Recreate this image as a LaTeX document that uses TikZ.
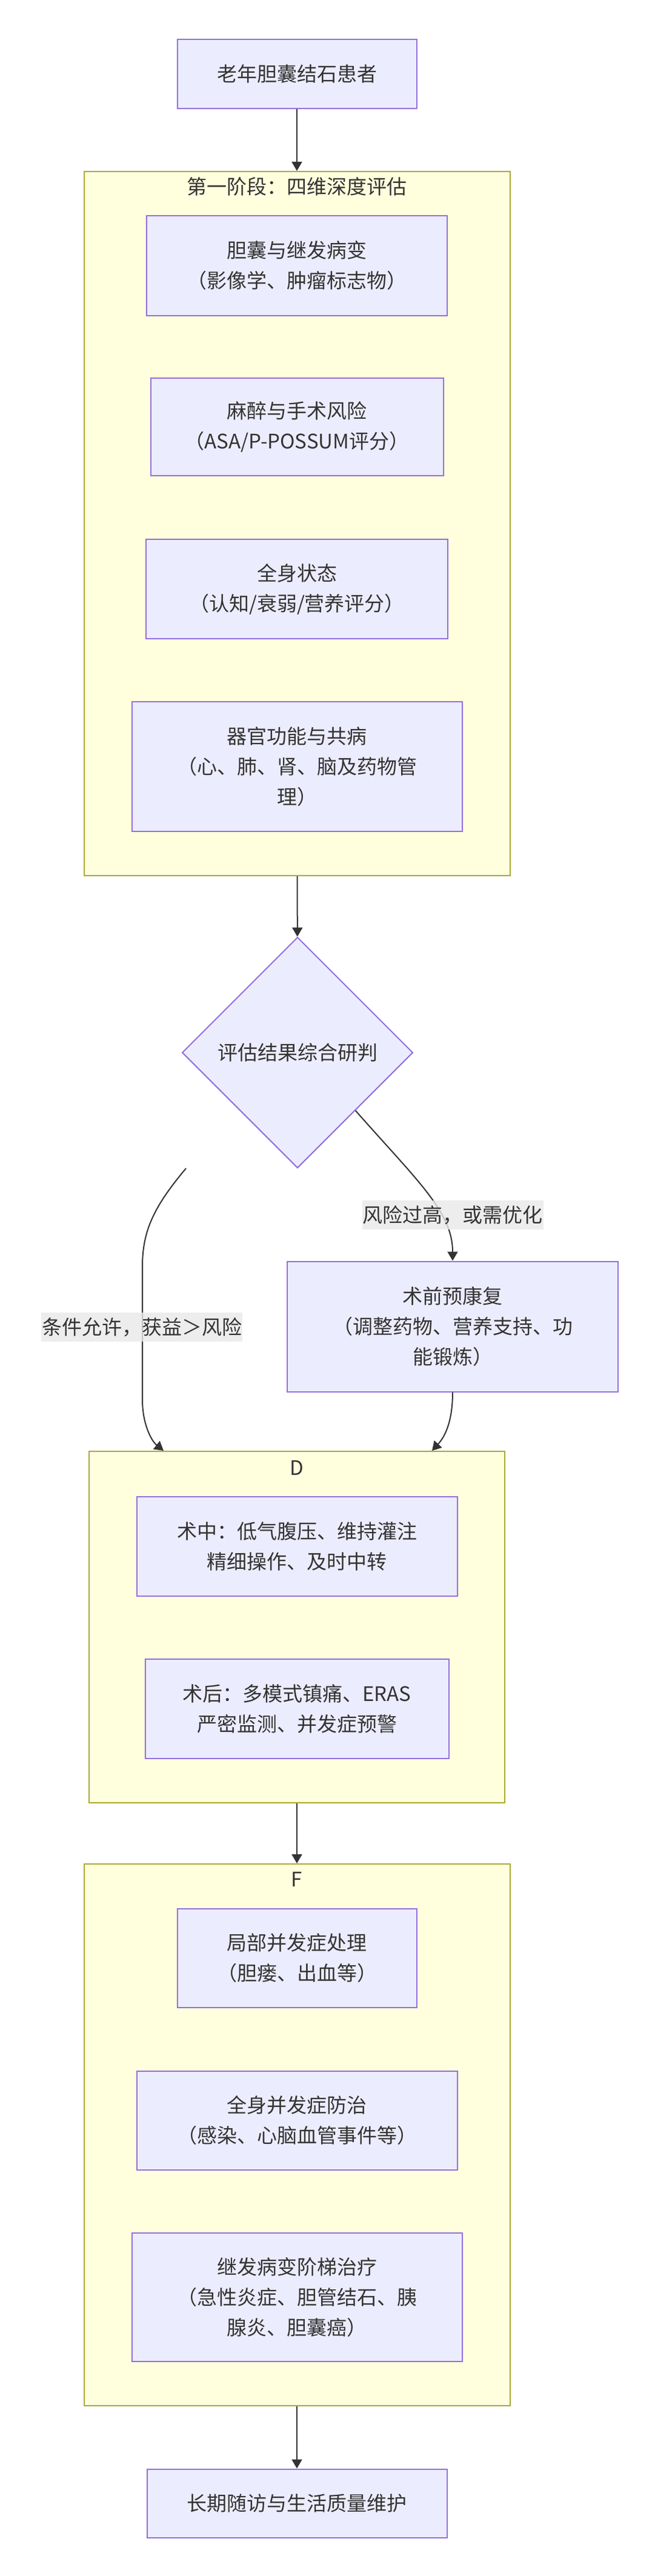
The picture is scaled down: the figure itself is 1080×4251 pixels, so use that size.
\documentclass[tikz,border=0pt]{standalone}
\usepackage{fontspec}
\setmainfont{Noto Sans CJK SC}
\usetikzlibrary{shapes.geometric,arrows.meta}
\begin{document}
\begin{tikzpicture}[x=1pt,y=-1pt,
  box/.style={draw=boxline,fill=boxfill,line width=2pt,align=center,text=txt,font=\fontsize{33}{50}\selectfont,inner sep=0pt},
  grp/.style={draw=grpline,fill=grpfill,line width=2pt,inner sep=0pt},
  grptitle/.style={text=txt,font=\fontsize{33}{50}\selectfont,inner sep=0pt},
  edgelbl/.style={fill=lblfill,fill opacity=0.8,text opacity=1,text=txt,font=\fontsize{33}{50}\selectfont,inner xsep=1pt,inner ysep=8pt},
  link/.style={draw=lnk,line width=2pt,-{Triangle[length=15pt,width=17pt]}}]
\definecolor{boxfill}{HTML}{ECECFF}
\definecolor{boxline}{HTML}{9370DB}
\definecolor{grpfill}{HTML}{FFFFDE}
\definecolor{grpline}{HTML}{AAAA33}
\definecolor{lblfill}{HTML}{E8E8E8}
\definecolor{lnk}{HTML}{333333}
\definecolor{txt}{HTML}{333333}
\useasboundingbox (0,0) rectangle (1080,4251);
% groups
\node[grp,minimum width=703pt,minimum height=1162pt] (s1) at (490,864) {};
\node[grptitle] (t1) at (490,308) {第一阶段：四维深度评估};
\node[grp,minimum width=686pt,minimum height=580pt] (sd) at (490,2685) {};
\node[grptitle] (td) at (490,2422) {D};
\node[grp,minimum width=703pt,minimum height=894pt] (sf) at (490,3523) {};
\node[grptitle] (tf) at (490,3101) {F};
% nodes
\node[box,minimum width=395pt,minimum height=114pt] (top) at (490,122) {老年胆囊结石患者};
\node[box,minimum width=496pt,minimum height=165pt] (gb) at (490,438) {胆囊与继发病变\\（影像学、肿瘤标志物）};
\node[box,minimum width=483pt,minimum height=161pt] (risk) at (490,704) {麻醉与手术风险\\（ASA/P-POSSUM评分）};
\node[box,minimum width=498pt,minimum height=164pt] (gen) at (490,972) {全身状态\\（认知/衰弱/营养评分）};
\node[box,minimum width=545pt,minimum height=214pt] (org) at (490,1265) {器官功能与共病\\（心、肺、肾、脑及药物管\\理）};
\node[box,diamond,aspect=1,minimum width=381pt,minimum height=381pt] (judge) at (491,1737) {评估结果综合研判};
\node[box,minimum width=546pt,minimum height=215pt] (pre) at (747,2189) {术前预康复\\（调整药物、营养支持、功\\能锻炼）};
\node[box,minimum width=529pt,minimum height=164pt] (intra) at (490,2552) {术中：低气腹压、维持灌注\\精细操作、及时中转};
\node[box,minimum width=501pt,minimum height=164pt] (post) at (490,2820) {术后：多模式镇痛、ERAS\\严密监测、并发症预警};
\node[box,minimum width=395pt,minimum height=163pt] (loc) at (490,3231) {局部并发症处理\\（胆瘘、出血等）};
\node[box,minimum width=529pt,minimum height=163pt] (sys) at (490,3499) {全身并发症防治\\（感染、心脑血管事件等）};
\node[box,minimum width=545pt,minimum height=212pt] (sec) at (490,3791) {继发病变阶梯治疗\\（急性炎症、胆管结石、胰\\腺炎、胆囊癌）};
\node[box,minimum width=495pt,minimum height=113pt] (last) at (490,4131) {长期随访与生活质量维护};
% connectors
\coordinate (lstart) at (307,1928);
\draw[link] (top) -- (s1);
\draw[link] (s1) -- (judge);
\draw[link] (lstart) .. controls (255,1990) and (235,2030) .. (235,2090) -- (235,2310) .. controls (235,2350) and (250,2378) .. ([xshift=-220pt]sd.north);
\draw[link] (judge.south east) .. controls (690,1950) and (747,2000) .. (pre.north);
\draw[link] (pre.south) .. controls (747,2345) and (735,2370) .. ([xshift=223pt]sd.north);
\draw[link] (sd) -- (sf);
\draw[link] (sf) -- (last);
% labels
\node[edgelbl] (lok) at (234,2190) {条件允许，获益＞风险};
\node[edgelbl] (lhigh) at (747,2005) {风险过高，或需优化};
\end{tikzpicture}
\end{document}
